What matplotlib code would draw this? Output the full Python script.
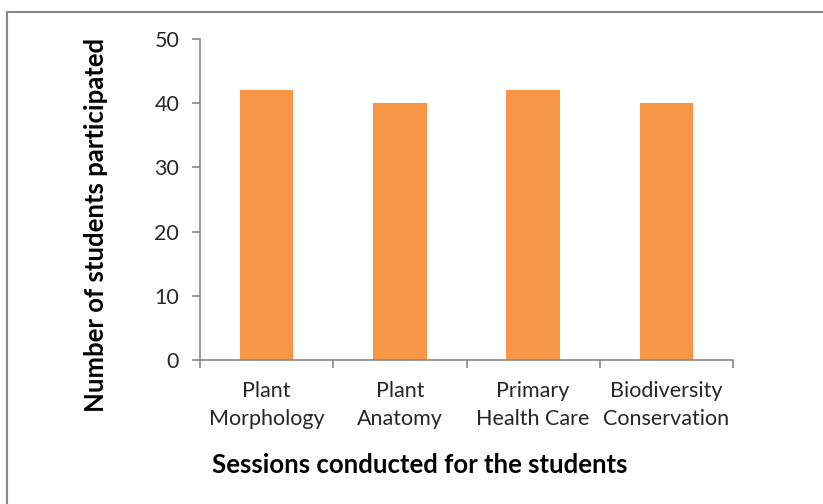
from matplotlib import pyplot as plt
from matplotlib.patches import Rectangle
import numpy as np

sessions = ["Plant\nMorphology", "Plant\nAnatomy", "Primary\nHealth Care", "Biodiversity\nConservation"]
students = [42, 40, 42, 40]
yticks = [0, 10, 20, 30, 40, 50]

plt.rcParams['font.family'] = ['Lato', 'DejaVu Sans']

fig = plt.figure(figsize=(8.23, 5.04), dpi=100)
ax = fig.add_axes([200 / 823, 1 - 360 / 504, 533 / 823, 321 / 504])

x = np.arange(len(sessions))
ax.bar(x, students, width=0.4, color="#F79646", zorder=2)

ax.set_xlim(-0.5, len(sessions) - 0.5)
ax.set_ylim(0, 50)
ax.set_yticks(yticks)
ax.set_xticks(x)
ax.set_xticklabels(sessions, fontsize=15.5, color="#262626", linespacing=1.5)
ax.set_xticks(np.arange(len(sessions) + 1) - 0.5, minor=True)

for s in ["top", "right"]:
    ax.spines[s].set_visible(False)
for s in ["left", "bottom"]:
    ax.spines[s].set_color("#888888")
    ax.spines[s].set_linewidth(1.2)

ax.tick_params(axis="y", colors="#888888", labelcolor="#262626", labelsize=15.5,
               length=6, width=1.2, pad=9)
ax.tick_params(axis="x", which="major", length=0, pad=15)
ax.tick_params(axis="x", which="minor", colors="#888888", length=6, width=1.2)

ax.set_ylabel("Number of students participated", fontsize=18.5, fontweight="bold",
              color="black")
ax.yaxis.set_label_coords(-0.172, 0.42)
ax.set_xlabel("Sessions conducted for the students", fontsize=18.5, fontweight="bold",
              color="black")
ax.xaxis.set_label_coords(0.4128, -0.29)

# chart area border
fig.patches.append(Rectangle((7 / 823, -0.1), 1.0, 1 - 12 / 504 + 0.1,
                             transform=fig.transFigure, fill=False,
                             edgecolor="#888888", linewidth=1.5))

fig.savefig("out.png", dpi=100)
